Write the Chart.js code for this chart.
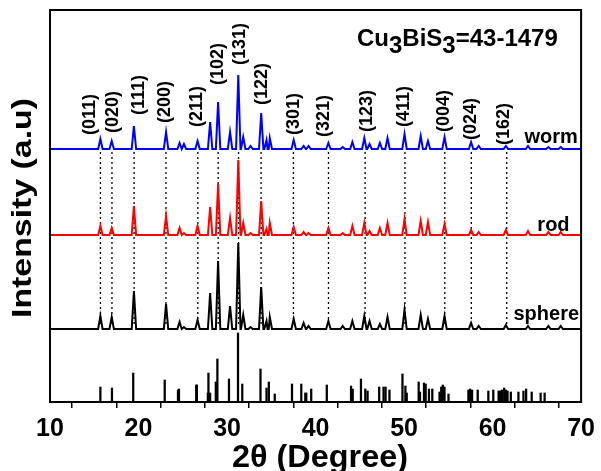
<!DOCTYPE html>
<html>
<head>
<meta charset="utf-8">
<script src="https://cdn.jsdelivr.net/npm/chart.js@4.4.1/dist/chart.umd.min.js"></script>
<style>
html,body{margin:0;padding:0;background:#fff;}
#wrap{width:601px;height:471px;position:relative;}
</style>
</head>
<body>
<div id="wrap"><canvas id="c"></canvas></div>
<script>
// ---- data (2θ in degrees, intensity in arbitrary units) ----
const peakPos   = [15.69,16.97,19.48,23.11,24.64,25.13,26.67,28.09,28.99,30.34,31.27,31.83,32.66,33.86,34.46,34.83,37.53,38.65,39.21,41.45,43.07,44.16,45.51,46.10,47.27,48.13,50.05,51.88,52.70,54.57,57.57,58.43,61.50,64.00,66.30,67.70];
const wormI     = [10,8,23,17,6,5,8,27,47,17,74,12,3,36,9,11,9,3,3,6,2,7,11,5,6,11,15,13,8,12,7,3,3,3,2,2];
const rodI      = [9,7,29,19,7,2,9,28,51,17,75,12,2,34,6,12,8,3,2,7,2,9,12,4,7,12,16,14,13,11,5,3,5,4,3,3];
const sphereI   = [13,12,38,25,7,2,9,36,68,23,86,14,2,42,8,12,10,6,3,8,3,8,13,8,5,12,19,14,10,13,6,3,4,3,3,3];
const wormBase = 253, rodBase = 167, sphereBase = 73;

const refPos = [15.69,17.00,19.40,22.96,24.46,24.57,26.52,26.59,27.83,27.90,28.09,28.73,28.91,30.22,31.24,31.72,33.78,34.46,34.72,35.39,37.34,38.39,38.84,38.95,39.51,41.27,44.01,44.20,45.13,45.62,45.88,47.19,47.68,47.91,48.35,49.82,50.15,50.30,51.65,51.80,52.25,52.44,52.81,53.19,54.01,54.20,54.38,54.57,55.02,57.27,57.46,57.68,58.32,59.52,60.08,60.68,60.86,61.05,61.31,61.50,61.69,62.06,62.92,63.49,63.79,64.42,65.43,65.88];
const refI   = [15,14,29,22,12,13,17,17,9,29,9,20,43,23,69,18,33,14,20,8,18,18,9,9,13,17,16,13,23,13,11,15,15,15,12,28,16,9,20,10,19,18,13,13,10,15,17,15,8,12,13,12,12,11,12,11,11,12,14,12,11,10,10,11,13,10,9,9];

const hklNames = ['(011)','(020)','(111)','(200)','(211)','(102)','(131)','(122)','(301)','(321)','(123)','(411)','(004)','(024)','(162)'];
const hklPos   = [15.7,17.0,19.5,23.1,26.7,29.0,31.3,33.85,37.5,41.46,45.6,50.1,54.6,57.6,61.6];
const seriesNames = ['worm','rod','sphere'];
const xTickLabels = [10,20,30,40,50,60,70];

// ---- layout constants ----
const FONT = "'Liberation Sans', Arial, sans-serif";
const HW = 0.25;
const hklLabelBottom = [267,269,287,279,275,317,337,297,267,265,270,275,270,262,257];
const hklLabelDx = [-11,0,4,-2,-2,-1,0,0,0,-5,1,-2,-2,-1,-4];
const dotTop = 250, dotBottom = 76;
const seriesLabelAt = [[63.6,259],[65.06,171],[62.36,82]];

function buildCurve(base, heights){
  const pts = [{x:10,y:base}];
  peakPos.forEach((p,i)=>{
    const h = heights[i];
    if(h>0){ pts.push({x:p-HW,y:base},{x:p,y:base+h},{x:p+HW,y:base}); }
  });
  pts.push({x:70,y:base});
  pts.sort((a,b)=>a.x-b.x);
  return pts;
}
const dotData = [];
hklPos.forEach(p=>{ dotData.push({x:p,y:dotTop},{x:p,y:dotBottom},{x:p,y:null}); });
const refData = refPos.map((p,i)=>({x:p,y:refI[i]}));

const deco = {
  id:'deco',
  afterDatasetsDraw(chart){
    const ctx = chart.ctx, xs = chart.scales.x, ys = chart.scales.y, a = chart.chartArea;
    ctx.save();
    ctx.strokeStyle='#000'; ctx.lineWidth=2;
    ctx.strokeRect(a.left, a.top, a.right-a.left, a.bottom-a.top);
    ctx.fillStyle='#000';
    ctx.font = "bold 18px "+FONT;
    ctx.textAlign='left'; ctx.textBaseline='middle';
    hklNames.forEach((n,i)=>{
      const x = xs.getPixelForValue(hklPos[i]) + hklLabelDx[i];
      const y = ys.getPixelForValue(hklLabelBottom[i]);
      ctx.save(); ctx.translate(x,y); ctx.rotate(-Math.PI/2); ctx.fillText(n,0,1); ctx.restore();
    });
    ctx.font = "bold 20px "+FONT; ctx.textBaseline='alphabetic';
    seriesNames.forEach((n,i)=>{
      ctx.fillText(n, xs.getPixelForValue(seriesLabelAt[i][0]), ys.getPixelForValue(seriesLabelAt[i][1]));
    });
    ctx.font = "bold 24px "+FONT;
    let tx = 357; const by = 46, sb = 53;
    [['Cu',by],['3',sb],['BiS',by],['3',sb],['=43-1479',by]].forEach(([t,yy])=>{
      ctx.fillText(t, tx, yy); tx += ctx.measureText(t).width;
    });
    ctx.font = "bold 31px "+FONT;
    ctx.textAlign='center';
    let w = ctx.measureText('2θ (Degree)').width;
    ctx.save(); ctx.translate(320,467); ctx.scale(176/w,1); ctx.fillText('2θ (Degree)',0,0); ctx.restore();
    ctx.font = "bold 28px "+FONT;
    ctx.textBaseline='middle';
    w = ctx.measureText('Intensity (a.u)').width;
    ctx.save(); ctx.translate(23,208); ctx.rotate(-Math.PI/2); ctx.scale(220/w,1); ctx.fillText('Intensity (a.u)',0,0); ctx.restore();
    ctx.restore();
  }
};

new Chart(document.getElementById('c'),{
  type:'line',
  data:{datasets:[
    {label:'worm', data:buildCurve(wormBase,wormI), borderColor:'#0000ff', borderWidth:2, pointRadius:0, tension:0, order:1},
    {label:'rod', data:buildCurve(rodBase,rodI), borderColor:'#ff0000', borderWidth:2, pointRadius:0, tension:0, order:2},
    {label:'sphere', data:buildCurve(sphereBase,sphereI), borderColor:'#000000', borderWidth:2, pointRadius:0, tension:0, order:3},
    {type:'bar', label:'43-1479', data:refData, backgroundColor:'#000', borderWidth:0, barThickness:1.6, order:4},
    {label:'hkl', data:dotData, borderColor:'#000', borderWidth:1.3, borderDash:[2,3], pointRadius:0, spanGaps:false, order:10}
  ]},
  options:{
    responsive:true, maintainAspectRatio:false, animation:false,
    layout:{padding:{top:10,right:17,left:0,bottom:0}},
    plugins:{legend:{display:false}, tooltip:{enabled:false}},
    scales:{
      x:{type:'linear', min:10, max:70, offset:false,
         afterFit(s){ s.height = 69; },
         border:{display:false},
         grid:{drawOnChartArea:false, drawTicks:true, tickLength:6, color:'#000', lineWidth:1.5},
         ticks:{stepSize:5, autoSkip:false, maxRotation:0, color:'#000', padding:6,
           font:{family:FONT, size:25, weight:'bold'},
           callback:(v)=> xTickLabels.includes(v) ? String(v) : ''}
      },
      y:{type:'linear', min:0, max:392,
         afterFit(s){ s.width = 50; },
         border:{display:false}, grid:{display:false}, ticks:{display:false}}
    }
  },
  plugins:[deco]
});
</script>
</body>
</html>
